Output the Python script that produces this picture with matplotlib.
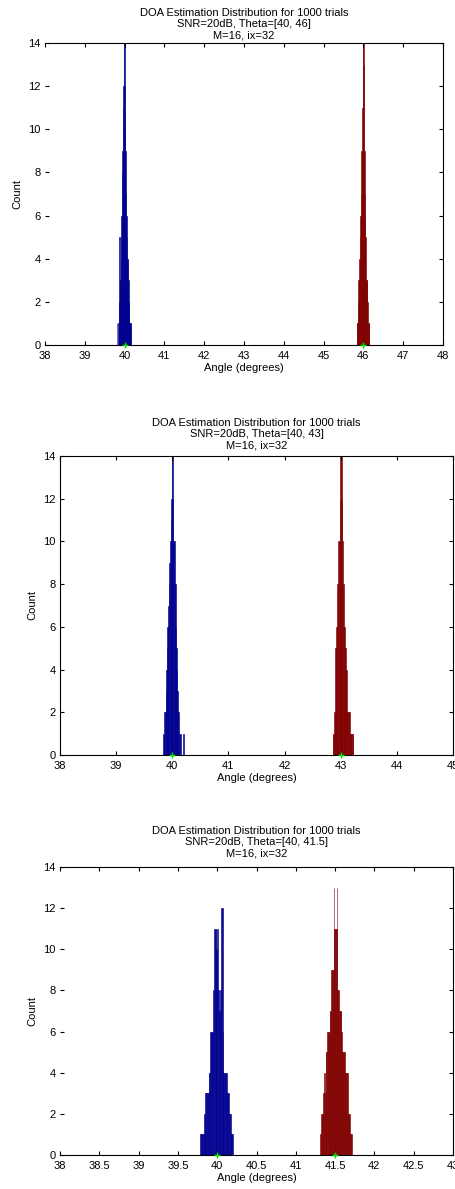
"""
DOA estimation histograms for 1000 trials, three source spacings.
"""

import numpy as np
import matplotlib
matplotlib.use("Agg")
import matplotlib.pyplot as plt

plt.rcParams["font.family"] = ["Liberation Sans", "DejaVu Sans"]

BIN_WIDTH = 0.01

# panel 1: Theta = [40, 46]
P1_BLUE_START = 39.815
P1_BLUE_COUNTS = [1, 0, 0, 1, 2, 2, 5, 3, 3, 4, 5, 6, 8, 9, 9, 11, 12, 14,
                  14, 12, 10, 9, 7, 6, 5, 4, 4, 4, 3, 2, 2, 1, 1, 1, 1]
P1_RED_START = 45.835
P1_RED_COUNTS = [1, 1, 1, 2, 3, 3, 3, 4, 5, 6, 6, 7, 9, 9, 11, 13, 14, 14,
                 13, 9, 7, 6, 5, 3, 3, 3, 3, 2, 1, 1, 1, 1]

# panel 2: Theta = [40, 43]
P2_BLUE_START = 39.845
P2_BLUE_COUNTS = [1, 1, 2, 2, 3, 4, 5, 6, 6, 7, 8, 9, 10, 11, 12, 14, 14,
                  12, 10, 10, 8, 8, 6, 5, 4, 3, 2, 2, 1, 0, 1, 0, 0, 0, 0, 1]
P2_RED_START = 42.865
P2_RED_COUNTS = [1, 1, 2, 2, 5, 5, 6, 6, 8, 8, 10, 10, 12, 14, 14, 14, 12,
                 10, 8, 6, 6, 5, 5, 4, 4, 2, 2, 2, 2, 2, 1, 1, 1, 1, 1, 1]

# panel 3: Theta = [40, 41.5]
P3_BLUE_START = 39.785
P3_BLUE_COUNTS = [1, 1, 1, 1, 1, 2, 2, 3, 3, 3, 3, 4, 4, 6, 6, 6, 6, 8, 11,
                  11, 11, 10, 11, 8, 7, 7, 8, 12, 12, 6, 4, 4, 4, 4, 3, 3, 3,
                  2, 2, 1, 1, 1]
P3_RED_START = 41.315
P3_RED_COUNTS = [1, 2, 2, 2, 3, 4, 3, 5, 5, 6, 6, 6, 7, 7, 9, 9, 9, 13, 11,
                 11, 11, 13, 8, 8, 7, 7, 7, 6, 5, 5, 5, 4, 4, 4, 4, 2, 2, 2,
                 1, 1]

THETAS = [[40, 46], [40, 43], [40, 41.5]]
THETA_LABELS = ["[40, 46]", "[40, 43]", "[40, 41.5]"]
X_LIMITS = [(38, 48), (38, 45), (38, 43)]
X_TICKS = [np.arange(38, 48.5, 1), np.arange(38, 45.5, 1),
           np.arange(38, 43.25, 0.5)]
TITLE_PADS = [3.5, 5.5, 7.5]

BLUE = "#00008f"
RED = "#800000"


def draw_hist(ax, start, counts, color):
    centers = start + BIN_WIDTH * np.arange(len(counts))
    ax.bar(centers, counts, width=BIN_WIDTH, color=color,
           edgecolor=color, linewidth=0.4)


def setup_axes(ax, i, hide_left):
    ax.set_xlim(*X_LIMITS[i])
    ax.set_ylim(0, 14)
    ax.set_xticks(X_TICKS[i])
    ax.set_xticklabels(["%g" % t for t in X_TICKS[i]])
    ax.set_yticks(range(0, 15, 2))
    ax.tick_params(direction="in", length=3, width=0.8, top=True,
                   right=True, labelsize=8, pad=3, colors="black")
    ax.tick_params(axis="x", pad=4)
    for side in ["top", "bottom", "left", "right"]:
        ax.spines[side].set_linewidth(0.8)
    if hide_left:
        ax.spines["left"].set_visible(False)
    ax.set_xlabel("Angle (degrees)", fontsize=8, labelpad=2)
    ax.set_ylabel("Count", fontsize=8, labelpad=4)
    ax.set_title("DOA Estimation Distribution for 1000 trials\n"
                 "SNR=20dB, Theta=" + THETA_LABELS[i] + "\nM=16, ix=32",
                 fontsize=8, linespacing=1.15, pad=TITLE_PADS[i])
    ax.plot(THETAS[i], [0, 0], "+", color="#00e000", markersize=5,
            markeredgewidth=1, clip_on=False, zorder=5)


fig = plt.figure(figsize=(4.55, 11.89), dpi=100)

ax1 = fig.add_axes([45 / 455, 1 - 345 / 1189, 398 / 455, 302 / 1189])
ax2 = fig.add_axes([60 / 455, 1 - 755 / 1189, 393 / 455, 299 / 1189])
ax3 = fig.add_axes([60 / 455, 1 - 1155 / 1189, 393 / 455, 288 / 1189])

draw_hist(ax1, P1_BLUE_START, P1_BLUE_COUNTS, BLUE)
draw_hist(ax1, P1_RED_START, P1_RED_COUNTS, RED)
draw_hist(ax2, P2_BLUE_START, P2_BLUE_COUNTS, BLUE)
draw_hist(ax2, P2_RED_START, P2_RED_COUNTS, RED)
draw_hist(ax3, P3_BLUE_START, P3_BLUE_COUNTS, BLUE)
draw_hist(ax3, P3_RED_START, P3_RED_COUNTS, RED)

setup_axes(ax1, 0, True)
setup_axes(ax2, 1, False)
setup_axes(ax3, 2, True)

fig.savefig("out.png", dpi=100)
